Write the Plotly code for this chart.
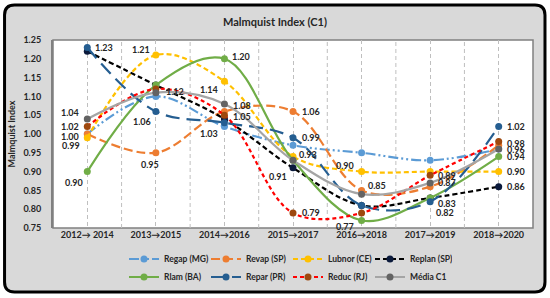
import plotly.graph_objects as go

# categories and series
periods = ["2012→ 2014", "2013→2015", "2014→2016", "2015→2017", "2016→2018", "2017→2019", "2018→2020"]
regap = [1.00, 1.10, 1.02, 0.97, 0.95, 0.93, 0.96]
revap = [1.00, 0.95, 1.06, 1.06, 0.85, 0.86, 0.97]
lubnor = [0.99, 1.21, 1.14, 0.94, 0.90, 0.90, 0.90]
replan = [1.22, 1.13, 1.04, 0.91, 0.81, 0.83, 0.86]
rlam = [0.90, 1.13, 1.20, 0.93, 0.77, 0.83, 0.94]
repar = [1.23, 1.06, 1.03, 0.99, 0.81, 0.82, 1.02]
reduc = [1.02, 1.12, 1.05, 0.79, 0.79, 0.89, 0.98]
media = [1.04, 1.11, 1.08, 0.93, 0.84, 0.87, 0.96]

FIG_W, FIG_H = 550, 298
# plot area in pixels (for the frame drawn around the whole chart)
L, T, R, B = 52.5, 40, 17, 70
W, H = FIG_W - L - R, FIG_H - T - B
def px(x):
    return (x - L) / W
def py(y):
    return (T + H - y) / H

series = [
    # name, values, line colour, marker colour, dash, legend row
    ("Regap (MG)", regap, "#5B9BD5", "#5B9BD5", "10px,3px,2px,3px,2px,3px", "legend"),
    ("Revap (SP)", revap, "#ED7D31", "#ED7D31", "9px,4px", "legend"),
    ("Lubnor (CE)", lubnor, "#FFC000", "#FFC000", "5px,3px", "legend"),
    ("Replan (SP)", replan, "#000000", "#0B1A3C", "5px,3px", "legend"),
    ("Rlam (BA)", rlam, "#70AD47", "#70AD47", "solid", "legend2"),
    ("Repar (PR)", repar, "#255E91", "#255E91", "14px,7px", "legend2"),
    ("Reduc (RJ)", reduc, "#FF0000", "#9E480E", "4px,3px", "legend2"),
    ("Média C1", media, "#A5A5A5", "#636363", "solid", "legend2"),
]

fig = go.Figure()
for name, vals, lc, mc, dash, leg in series:
    fig.add_trace(go.Scatter(
        x=periods, y=vals, name=name, mode="lines+markers", legend=leg,
        line=dict(color=lc, width=2.2, dash=dash, shape="spline", smoothing=1),
        marker=dict(color=mc, size=7),
    ))

# which points carry a value label: (series values, index, xanchor, xshift, yshift)
labels = [
    (repar, 0, "left", 6, 0), (media, 0, "right", -6, 6), (reduc, 0, "right", -6, 0),
    (revap, 0, "right", -6, -2), (lubnor, 0, "right", -5, -8), (rlam, 0, "right", -2, -11),
    (lubnor, 1, "right", -4, 6), (reduc, 1, "left", 8, -3), (repar, 1, "right", -3, -10),
    (revap, 1, "center", -6, -12),
    (rlam, 2, "left", 6, 2), (lubnor, 2, "right", -4, -8), (media, 2, "left", 7, -2),
    (reduc, 2, "left", 7, -1), (repar, 2, "right", -4, -11),
    (revap, 3, "left", 7, 0), (repar, 3, "left", 7, 0), (media, 3, "left", 4, 6),
    (replan, 3, "right", -4, -9), (reduc, 3, "left", 7, 0),
    (lubnor, 4, "right", -6, 6), (revap, 4, "left", 4, 5), (rlam, 4, "right", -6, -6),
    (reduc, 5, "left", 6, 0), (media, 5, "left", 6, 0), (rlam, 5, "left", 6, -6),
    (repar, 5, "left", 4, -11),
    (repar, 6, "left", 6, 0), (reduc, 6, "left", 6, -2), (media, 6, "left", 6, 0),
    (rlam, 6, "left", 6, 0), (lubnor, 6, "left", 6, 0), (replan, 6, "left", 6, 0),
]
for vals, i, xa, xs, ys in labels:
    fig.add_annotation(x=periods[i], y=vals[i], text=f"{vals[i]:.2f}", showarrow=False,
                       xanchor=xa, xshift=xs, yshift=ys,
                       font=dict(family="Lato", size=9, color="#262626", weight="bold"))

# outer rounded frame
x0, x1, y0, y1, r = 4, 545, 5, 292, 10
path = (f"M {px(x0 + r)},{py(y0)} L {px(x1 - r)},{py(y0)} Q {px(x1)},{py(y0)} {px(x1)},{py(y0 + r)} "
        f"L {px(x1)},{py(y1 - r)} Q {px(x1)},{py(y1)} {px(x1 - r)},{py(y1)} "
        f"L {px(x0 + r)},{py(y1)} Q {px(x0)},{py(y1)} {px(x0)},{py(y1 - r)} "
        f"L {px(x0)},{py(y0 + r)} Q {px(x0)},{py(y0)} {px(x0 + r)},{py(y0)} Z")
shapes = [
    dict(type="path", path=path, xref="paper", yref="paper", fillcolor="#D9D9D9",
         line=dict(color="#000000", width=3), layer="below"),
    dict(type="rect", xref="paper", yref="paper", x0=0, x1=1, y0=0, y1=1, fillcolor="white",
         line=dict(color="#808080", width=1.5), layer="below"),
]
# dashed separators between categories
for k in range(len(periods) - 1):
    shapes.append(dict(type="line", xref="x", yref="paper", x0=k + 0.5, x1=k + 0.5, y0=0, y1=1,
                       line=dict(color="#BFBFBF", width=1, dash="4px,3px"), layer="below"))

leg_style = dict(orientation="h", xref="container", yref="container", x=124 / FIG_W, xanchor="left",
                 yanchor="middle", font=dict(family="Lato", size=8.5, weight="bold", color="#262626"),
                 entrywidth=37, itemwidth=30, bgcolor="rgba(0,0,0,0)")

fig.update_layout(
    width=FIG_W, height=FIG_H, margin=dict(l=L, r=R, t=T, b=B, autoexpand=False),
    paper_bgcolor="white", plot_bgcolor="rgba(0,0,0,0)",
    font=dict(family="Lato", size=9, color="#262626"),
    title=dict(text="Malmquist Index (C1)", xref="container", x=0.5, xanchor="center",
               yref="container", y=1 - 22 / FIG_H, yanchor="middle",
               font=dict(family="Lato", size=11, weight="bold", color="#262626")),
    shapes=shapes,
    showlegend=True,
    legend=dict(leg_style, y=1 - 259 / FIG_H),
    legend2=dict(leg_style, y=1 - 277 / FIG_H),
)
fig.update_xaxes(range=[-0.5, 6.5], showgrid=True, gridcolor="#BFBFBF", griddash="4px,3px",
                 showline=False, ticks="", zeroline=False,
                 tickfont=dict(family="Lato", size=9, weight="bold"))
fig.update_yaxes(range=[0.75, 1.25], dtick=0.05, tick0=0.75, tickformat=".2f", showgrid=False,
                 zeroline=False, showline=True, linecolor="#808080", linewidth=2,
                 ticks="", ticklabelstandoff=8,
                 tickfont=dict(family="Lato", size=9, weight="bold"),
                 title=dict(text="Malmquist Index", standoff=6,
                            font=dict(family="Lato", size=9, weight="bold")))

# page body has a default margin; drop it so the chart sits at the window origin
fig.write_html("out.html", config={"displayModeBar": False},
               post_script="document.body.style.margin='0';")
